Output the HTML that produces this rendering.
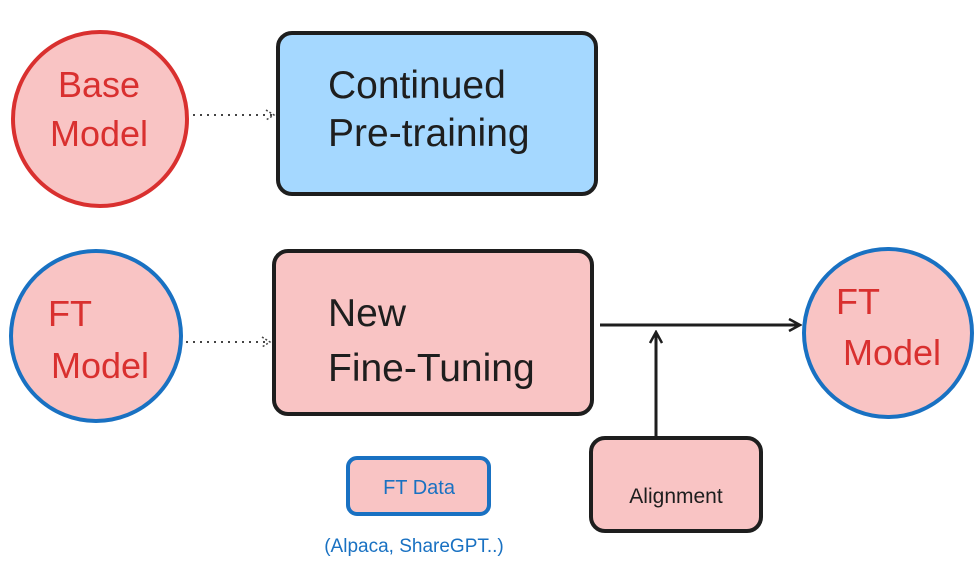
<!DOCTYPE html>
<html><head><meta charset="utf-8"><style>
html,body{margin:0;padding:0;background:#fff;width:977px;height:565px;overflow:hidden}
svg{display:block}
text{font-family:"Liberation Sans",sans-serif}
</style></head><body>
<svg width="977" height="565" viewBox="0 0 977 565" xmlns="http://www.w3.org/2000/svg">
<defs>
<marker id="ah" markerWidth="14" markerHeight="14" refX="12" refY="7" orient="auto" markerUnits="userSpaceOnUse">
<path d="M1,1 L12,7 L1,13" fill="none" stroke="#1e1e1e" stroke-width="2.5"/>
</marker>
<marker id="dh" markerWidth="12" markerHeight="12" refX="10" refY="6" orient="auto" markerUnits="userSpaceOnUse">
<path d="M2,1 L10,6 L2,11" fill="none" stroke="#444" stroke-width="1.5" stroke-dasharray="2 2"/>
</marker>
</defs>
<circle cx="100" cy="119" r="87" fill="#f9c4c4" stroke="#d9302f" stroke-width="4"/>
<text x="99" y="97" font-size="36" fill="#d9302f" text-anchor="middle">Base</text>
<text x="99" y="146" font-size="36" fill="#d9302f" text-anchor="middle">Model</text>
<line x1="193" y1="115" x2="274" y2="115" stroke="#444" stroke-width="2" stroke-dasharray="2 5" marker-end="url(#dh)"/>
<rect x="278" y="33" width="318" height="161" rx="14" fill="#a5d8ff" stroke="#1e1e1e" stroke-width="4"/>
<text x="328" y="98" font-size="39" fill="#1e1e1e">Continued</text>
<text x="328" y="146" font-size="39" fill="#1e1e1e">Pre-training</text>
<circle cx="96" cy="336" r="85" fill="#f9c4c4" stroke="#1971c2" stroke-width="4"/>
<text x="48" y="326" font-size="36" fill="#d9302f">FT</text>
<text x="100" y="378" font-size="36" fill="#d9302f" text-anchor="middle">Model</text>
<line x1="186" y1="342" x2="270" y2="342" stroke="#444" stroke-width="2" stroke-dasharray="2 5" marker-end="url(#dh)"/>
<rect x="274" y="251" width="318" height="163" rx="14" fill="#f9c4c4" stroke="#1e1e1e" stroke-width="4"/>
<text x="328" y="326" font-size="39" fill="#1e1e1e">New</text>
<text x="328" y="381" font-size="39" fill="#1e1e1e">Fine-Tuning</text>
<line x1="600" y1="325" x2="800" y2="325" stroke="#1e1e1e" stroke-width="3" marker-end="url(#ah)"/>
<line x1="656" y1="436" x2="656" y2="332" stroke="#1e1e1e" stroke-width="3" marker-end="url(#ah)"/>
<circle cx="888" cy="333" r="84" fill="#f9c4c4" stroke="#1971c2" stroke-width="4"/>
<text x="836" y="314" font-size="36" fill="#d9302f">FT</text>
<text x="892" y="365" font-size="36" fill="#d9302f" text-anchor="middle">Model</text>
<rect x="591" y="438" width="170" height="93" rx="14" fill="#f9c4c4" stroke="#1e1e1e" stroke-width="4"/>
<text x="676" y="503" font-size="21" fill="#1e1e1e" text-anchor="middle">Alignment</text>
<rect x="348" y="458" width="141" height="56" rx="9" fill="#f9c4c4" stroke="#1971c2" stroke-width="4"/>
<text x="419" y="494" font-size="20" fill="#1971c2" text-anchor="middle">FT Data</text>
<text x="414" y="552" font-size="19" fill="#1971c2" text-anchor="middle">(Alpaca, ShareGPT..)</text>
</svg>
</body></html>
